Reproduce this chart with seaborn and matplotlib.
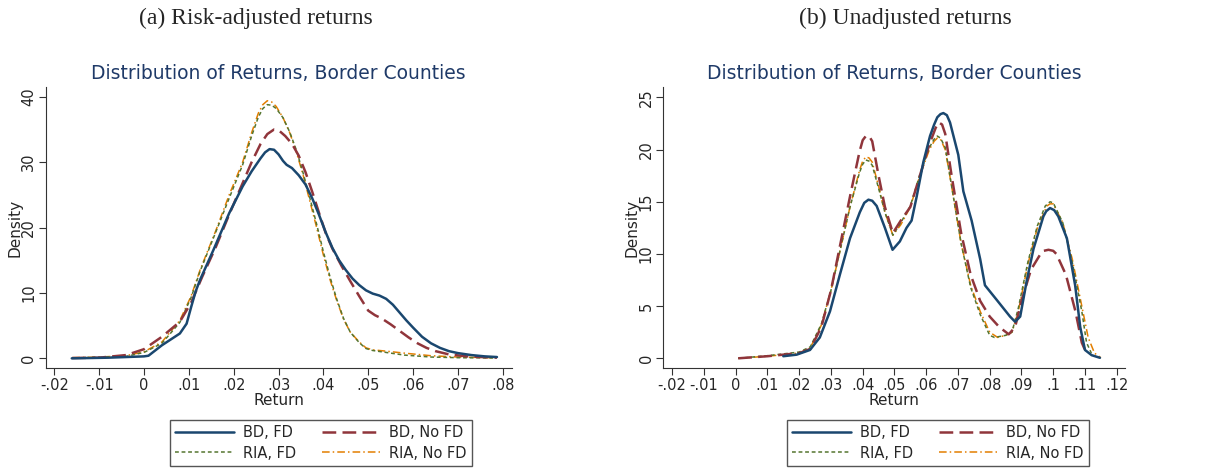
import numpy as np
import pandas as pd
import matplotlib
matplotlib.use("Agg")
import matplotlib.pyplot as plt
import seaborn as sns

# ---- data ----
# (a) risk-adjusted returns
a_bd_fd_x = [-0.0161, -0.008, 0.0, 0.001, 0.004, 0.008, 0.0095, 0.0105, 0.0115, 0.0125, 0.0155,
             0.019, 0.022, 0.024, 0.026, 0.027, 0.028, 0.029, 0.030, 0.031, 0.0318, 0.033,
             0.0345, 0.036, 0.0375, 0.039, 0.0405, 0.042, 0.0435, 0.045, 0.0465, 0.048, 0.0495,
             0.051, 0.0525, 0.054, 0.0555, 0.057, 0.0585, 0.060, 0.062, 0.064, 0.066, 0.068,
             0.070, 0.073, 0.076, 0.0787]
a_bd_fd_y = [0.0, 0.1, 0.3, 0.4, 2.0, 3.8, 5.3, 7.8, 10.2, 12.0, 16.6,
             22.2, 26.3, 28.6, 30.6, 31.5, 32.0, 31.9, 31.2, 30.2, 29.6, 29.1,
             28.0, 26.6, 24.5, 22.0, 19.3, 16.9, 15.0, 13.5, 12.2, 11.2, 10.4,
             9.9, 9.6, 9.1, 8.2, 7.0, 5.8, 4.7, 3.3, 2.3, 1.6, 1.1,
             0.8, 0.5, 0.3, 0.2]

a_bd_nofd_x = [-0.016, -0.01, -0.004, 0.0, 0.004, 0.008, 0.0105, 0.013, 0.016, 0.019, 0.022,
               0.024, 0.026, 0.0275, 0.029, 0.030, 0.0315, 0.033, 0.0345, 0.036, 0.0375, 0.039,
               0.0405, 0.042, 0.044, 0.046, 0.048, 0.050, 0.0515, 0.053, 0.055, 0.057, 0.059,
               0.061, 0.063, 0.065, 0.068, 0.072, 0.0787]
a_bd_nofd_y = [0.05, 0.1, 0.5, 1.4, 3.3, 5.6, 8.5, 12.5, 17.0, 22.0, 26.8,
               30.0, 32.8, 34.3, 35.0, 34.9, 34.0, 32.8, 31.0, 28.5, 25.5, 22.3,
               19.2, 16.8, 14.2, 11.8, 9.5, 7.3, 6.6, 6.1, 5.2, 4.2, 3.2,
               2.3, 1.6, 1.1, 0.6, 0.3, 0.1]

a_ria_fd_x = [-0.016, -0.01, -0.004, 0.0, 0.004, 0.008, 0.0105, 0.0125, 0.016, 0.019, 0.022,
              0.024, 0.0255, 0.0265, 0.0275, 0.0285, 0.0295, 0.031, 0.0325, 0.034, 0.0355, 0.037,
              0.0385, 0.040, 0.0415, 0.043, 0.0445, 0.046, 0.048, 0.0495, 0.051, 0.054, 0.058,
              0.064, 0.070, 0.078]
a_ria_fd_y = [0.05, 0.15, 0.3, 0.9, 2.3, 5.5, 9.3, 13.3, 19.3, 24.5, 29.6,
              34.0, 36.9, 38.2, 38.8, 38.7, 38.2, 36.8, 34.6, 31.8, 28.3, 24.5,
              20.5, 16.3, 12.4, 9.0, 6.1, 4.0, 2.4, 1.5, 1.2, 0.9, 0.5,
              0.2, 0.1, 0.05]

a_ria_nofd_x = [-0.016, -0.01, -0.004, 0.0, 0.004, 0.008, 0.0105, 0.0125, 0.016, 0.019, 0.022,
                0.024, 0.0255, 0.0265, 0.0275, 0.0285, 0.0295, 0.031, 0.0325, 0.034, 0.0355,
                0.037, 0.0385, 0.040, 0.0415, 0.043, 0.0445, 0.046, 0.048, 0.0495, 0.051, 0.054,
                0.058, 0.064, 0.070, 0.078]
a_ria_nofd_y = [0.1, 0.2, 0.4, 1.0, 2.5, 5.8, 9.5, 13.5, 19.5, 25.0, 30.0,
                34.5, 37.5, 38.8, 39.4, 39.2, 38.5, 36.8, 34.5, 31.5, 28.0,
                24.0, 20.0, 15.8, 12.0, 8.8, 6.0, 4.0, 2.5, 1.6, 1.3, 1.1,
                0.8, 0.4, 0.2, 0.1]

# (b) unadjusted returns
b_bd_fd_x = [0.015, 0.0192, 0.0234, 0.0265, 0.0297, 0.0328, 0.036, 0.0391, 0.0405, 0.0418,
             0.043, 0.0444, 0.047, 0.0494, 0.0517, 0.0538, 0.0554, 0.057, 0.0591, 0.0612,
             0.0625, 0.0635, 0.0645, 0.0654, 0.0665, 0.0675, 0.0701, 0.0717, 0.0743, 0.077,
             0.0785, 0.0822, 0.0864, 0.088, 0.0896, 0.0917, 0.0938, 0.0969, 0.0978, 0.099,
             0.1003, 0.1016, 0.1043, 0.1069, 0.1085, 0.110, 0.1121, 0.1147]
b_bd_fd_y = [0.2, 0.35, 0.8, 2.0, 4.5, 8.0, 11.5, 14.0, 14.9, 15.2,
             15.1, 14.6, 12.5, 10.4, 11.2, 12.5, 13.2, 15.5, 18.8, 21.3,
             22.4, 23.1, 23.4, 23.5, 23.3, 22.6, 19.5, 16.0, 13.2, 9.5,
             7.0, 5.6, 4.0, 3.5, 4.0, 7.5, 10.5, 13.6, 14.1, 14.4,
             14.2, 13.6, 11.5, 7.0, 3.0, 0.8, 0.3, 0.05]

b_bd_nofd_x = [0.0008, 0.01, 0.02, 0.0235, 0.027, 0.030, 0.033, 0.036, 0.039, 0.040, 0.041,
               0.042, 0.043, 0.045, 0.047, 0.0495, 0.052, 0.055, 0.058, 0.061, 0.063, 0.064,
               0.065, 0.066, 0.068, 0.071, 0.074, 0.077, 0.080, 0.083, 0.086, 0.088, 0.090,
               0.093, 0.096, 0.097, 0.0985, 0.100, 0.101, 0.104, 0.107, 0.109, 0.110]
b_bd_nofd_y = [0.0, 0.2, 0.5, 0.9, 3.0, 6.5, 11.0, 15.5, 19.8, 20.9, 21.3,
               21.3, 20.8, 17.5, 14.5, 12.0, 13.2, 14.5, 17.5, 20.5, 22.1, 22.6,
               22.4, 21.5, 17.5, 12.0, 8.0, 5.5, 4.0, 3.0, 2.3, 3.0, 5.5,
               8.5, 10.0, 10.3, 10.4, 10.3, 10.0, 8.0, 4.5, 1.5, 0.8]

b_ria_fd_x = [0.0008, 0.01, 0.02, 0.0235, 0.027, 0.030, 0.033, 0.036, 0.039, 0.040, 0.041,
              0.042, 0.043, 0.045, 0.047, 0.0495, 0.052, 0.055, 0.058, 0.061, 0.0625, 0.0635,
              0.0645, 0.066, 0.068, 0.071, 0.074, 0.077, 0.080, 0.0815, 0.085, 0.087, 0.089,
              0.092, 0.095, 0.0975, 0.099, 0.100, 0.103, 0.106, 0.109, 0.1105, 0.112]
b_ria_fd_y = [0.0, 0.25, 0.6, 1.1, 3.3, 6.5, 10.5, 14.5, 17.8, 18.6, 19.0,
              18.9, 18.5, 16.3, 14.0, 11.8, 13.0, 14.6, 17.6, 20.2, 21.0, 21.3,
              21.1, 20.2, 16.5, 11.0, 6.8, 4.2, 2.2, 2.0, 2.2, 2.5, 4.8,
              9.2, 12.7, 14.6, 15.0, 14.9, 13.0, 9.2, 4.5, 1.5, 0.5]

b_ria_nofd_x = [0.0008, 0.01, 0.02, 0.0235, 0.027, 0.030, 0.033, 0.036, 0.039, 0.040, 0.041,
                0.042, 0.043, 0.045, 0.047, 0.0495, 0.052, 0.055, 0.058, 0.061, 0.0625, 0.0635,
                0.0645, 0.066, 0.068, 0.071, 0.074, 0.077, 0.080, 0.0825, 0.085, 0.087, 0.089,
                0.092, 0.095, 0.098, 0.099, 0.100, 0.103, 0.106, 0.109, 0.111, 0.113, 0.115]
b_ria_nofd_y = [0.0, 0.2, 0.5, 1.0, 3.2, 6.5, 10.5, 14.5, 18.0, 18.9, 19.3,
                19.2, 18.8, 16.5, 14.0, 11.8, 12.8, 14.5, 17.5, 20.0, 20.8, 21.1,
                21.0, 20.0, 16.5, 11.0, 7.0, 4.5, 2.5, 2.0, 2.2, 2.5, 4.5,
                9.0, 12.5, 14.6, 14.8, 14.8, 13.0, 9.5, 5.0, 2.0, 0.5, 0.05]

series_names = ["BD, FD", "BD, No FD", "RIA, FD", "RIA, No FD"]
panel_headers = ["(a) Risk-adjusted returns", "(b) Unadjusted returns"]
axes_title = "Distribution of Returns, Border Counties"

a_xticks = [-0.02, -0.01, 0, 0.01, 0.02, 0.03, 0.04, 0.05, 0.06, 0.07, 0.08]
a_xticklabels = ["-.02", "-.01", "0", ".01", ".02", ".03", ".04", ".05", ".06", ".07", ".08"]
a_yticks = [0, 10, 20, 30, 40]
b_xticks = [-0.02, -0.01, 0, 0.01, 0.02, 0.03, 0.04, 0.05, 0.06, 0.07, 0.08, 0.09, 0.1, 0.11, 0.12]
b_xticklabels = ["-.02", "-.01", "0", ".01", ".02", ".03", ".04", ".05", ".06", ".07", ".08",
                 ".09", ".1", ".11", ".12"]
b_yticks = [0, 5, 10, 15, 20, 25]

# stata s2color-ish styles
styles = {
    "BD, FD": dict(color="#1a476f", lw=1.8, ls="-"),
    "BD, No FD": dict(color="#90353b", lw=1.8, ls=(0, (5.5, 2.5))),
    "RIA, FD": dict(color="#55752f", lw=1.1, ls=(0, (2.5, 1.8))),
    "RIA, No FD": dict(color="#e37e00", lw=1.1, ls=(0, (5, 2, 1, 2))),
}

sns.set_style("ticks")
plt.rcParams["font.family"] = ["DejaVu Sans"]

fig = plt.figure(figsize=(12.17, 4.72), dpi=100)
ax_a = fig.add_axes([0.0376, 0.2203, 0.3829, 0.5954])
ax_b = fig.add_axes([0.545, 0.2203, 0.3794, 0.5954])

panel_a = [(a_bd_fd_x, a_bd_fd_y), (a_bd_nofd_x, a_bd_nofd_y),
           (a_ria_fd_x, a_ria_fd_y), (a_ria_nofd_x, a_ria_nofd_y)]
panel_b = [(b_bd_fd_x, b_bd_fd_y), (b_bd_nofd_x, b_bd_nofd_y),
           (b_ria_fd_x, b_ria_fd_y), (b_ria_nofd_x, b_ria_nofd_y)]

for ax, panel in [(ax_a, panel_a), (ax_b, panel_b)]:
    # draw RIA lines first so BD lines are on top
    for name, (xs, ys) in reversed(list(zip(series_names, panel))):
        st = styles[name]
        sns.lineplot(x=xs, y=ys, ax=ax, color=st["color"], linewidth=st["lw"],
                     linestyle=st["ls"], sort=False, label=name, legend=False)

ax_a.set_xlim(-0.0219, 0.082)
ax_a.set_ylim(-1.48, 41.5)
ax_a.set_xticks(a_xticks)
ax_a.set_xticklabels(a_xticklabels)
ax_a.set_yticks(a_yticks)

ax_b.set_xlim(-0.0228, 0.1226)
ax_b.set_ylim(-0.93, 26.0)
ax_b.set_xticks(b_xticks)
ax_b.set_xticklabels(b_xticklabels)
ax_b.set_yticks(b_yticks)

for ax in [ax_a, ax_b]:
    sns.despine(ax=ax)
    ax.spines["left"].set_color("#333333")
    ax.spines["bottom"].set_color("#333333")
    ax.tick_params(axis="both", labelsize=10.5, length=5, color="#333333", pad=2)
    for lab in ax.get_yticklabels():
        lab.set_rotation(90)
        lab.set_va("center")
    ax.set_xlabel("Return", fontsize=11, labelpad=0)
    ax.set_ylabel("Density", fontsize=11, labelpad=-1)
    ax.set_title(axes_title, fontsize=13.5, color="#1f3a68", pad=6)

fig.text(0.21, 0.962, panel_headers[0], ha="center", va="center",
         fontsize=17, family="Liberation Serif")
fig.text(0.744, 0.962, panel_headers[1], ha="center", va="center",
         fontsize=17, family="Liberation Serif")

# legends: matplotlib fills columns first, so BD FD / RIA FD go in column one
legend_order = ["BD, FD", "RIA, FD", "BD, No FD", "RIA, No FD"]
for ax, cx in [(ax_a, 321 / 1217), (ax_b, 938 / 1217)]:
    handles, labels = ax.get_legend_handles_labels()
    order = [labels.index(n) for n in legend_order]
    fig.legend([handles[i] for i in order], [labels[i] for i in order],
               loc="center", bbox_to_anchor=(cx, 1 - 443 / 472), ncol=2,
               fontsize=10.5, handlelength=4.0, columnspacing=1.8,
               fancybox=False, edgecolor="#555555", framealpha=1,
               borderpad=0.4, labelspacing=0.35, handletextpad=0.6)

fig.savefig("out.png", dpi=100)
